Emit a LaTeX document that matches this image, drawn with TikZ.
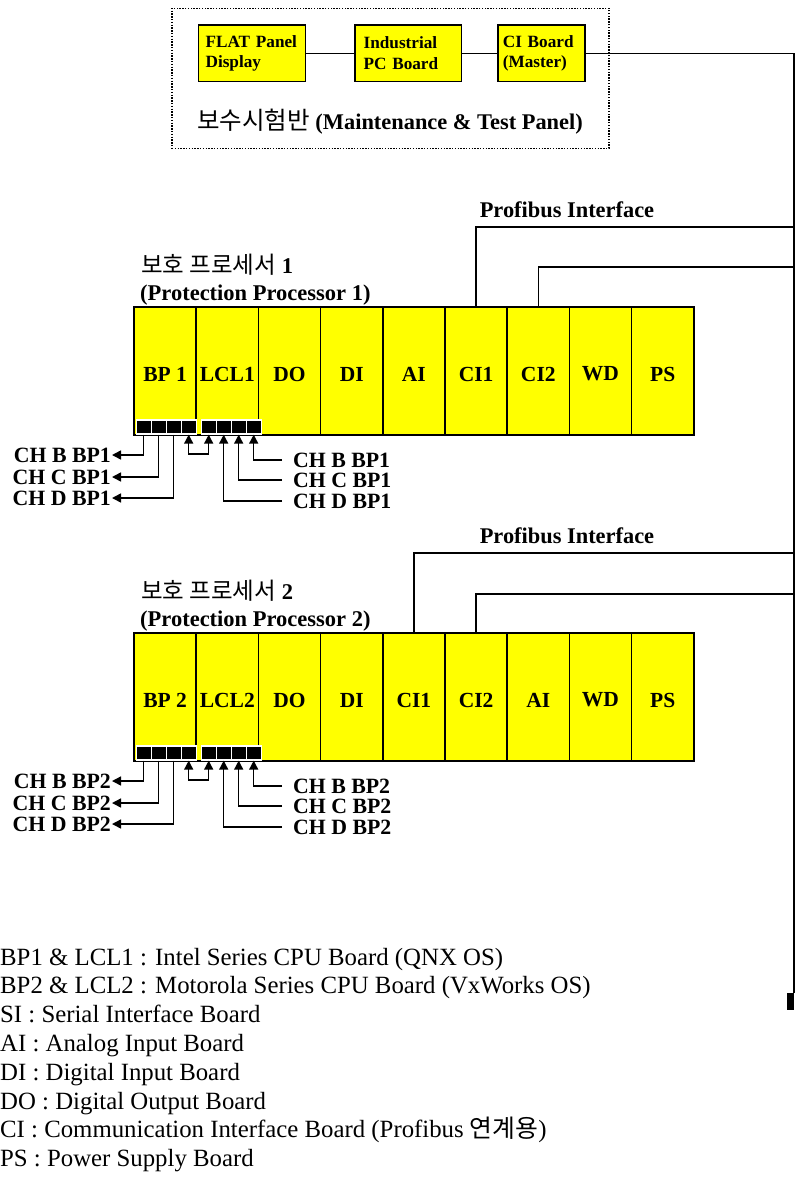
\documentclass[tikz,border=0pt]{standalone}
\usepackage{fontspec}
\setmainfont{Liberation Serif}
\newfontfamily\korfont{Noto Sans CJK KR}
\usepackage{tikz}
\usetikzlibrary{positioning,arrows.meta}
\definecolor{rackYellow}{HTML}{FFFF00}
\definecolor{rackInk}{HTML}{000000}
\tikzset{
  board/.style   = {draw=rackInk, line width=1.5pt, fill=rackYellow, inner sep=0pt,
                    minimum width=62.2pt, minimum height=128pt},
  brdlbl/.style  = {font=\bfseries\fontsize{21.5}{24}\selectfont, inner sep=0pt},
  pcbox/.style   = {draw=rackInk, line width=1.5pt, fill=rackYellow, align=left,
                    minimum height=56.7pt, inner ysep=0pt,
                    font=\bfseries\fontsize{17.2}{20.6}\selectfont},
  mtpanel/.style = {draw=rackInk, line width=1.4pt, dash pattern=on 1.4pt off 1.4pt,
                    minimum width=437pt, minimum height=140pt, inner sep=0pt},
  port/.style    = {fill=rackInk, draw=white, line width=1.3pt, inner sep=0pt,
                    minimum width=15pt, minimum height=14pt},
  busend/.style  = {fill=rackInk, inner sep=0pt, minimum width=7pt, minimum height=17pt},
  chlbl/.style   = {font=\bfseries\fontsize{21.8}{24}\selectfont, inner sep=1pt},
  prlbl/.style   = {font=\bfseries\fontsize{22.5}{26}\selectfont, inner sep=0pt,
                    anchor=base west},
  pblbl/.style   = {font=\bfseries\fontsize{22.4}{26}\selectfont, inner sep=0pt,
                    anchor=base},
  legend/.style  = {font=\fontsize{24.8}{28.8}\selectfont, inner sep=0pt,
                    anchor=base west},
  bus/.style     = {line width=1.5pt, color=rackInk},
  chout/.style   = {line width=1.5pt, -{Triangle[length=9pt,width=9pt]}},
  chlink/.style  = {line width=1.5pt,
                    {Triangle[length=9pt,width=9pt]}-{Triangle[length=9pt,width=9pt]}},
}

\begin{document}
\begin{tikzpicture}[x=1pt, y=-1pt, line cap=butt]
\useasboundingbox (0,0) rectangle (795,1178);

% one protection processor rack. #1 name prefix, #2 shift down, #3 number,
% #4 the nine boards from left to right
\newcommand{\protrack}[4]{%
  \begin{scope}[shift={(0,#2)}]
  \foreach \lbl [count=\i] in {#4}{
    \node[board] (#1\i) at ({134+62.2*(\i-0.5)},371) {};
    \node[brdlbl] (#1\i t) at ([yshift=-3pt]#1\i.center) {\lbl};
  }
  \foreach \k in {1,...,4}
    {\node[port] (#1P\k) at ({143.7+15*(\k-1)},427) {};}
  \foreach \k in {5,...,8}
    {\node[port] (#1P\k) at ({208.7+15*(\k-5)},427) {};}
  \node[prlbl] (#1Ko) at (141,273) {{\korfont\mdseries\fontsize{23.5}{26}\selectfont 보호 프로세서} #3};
  \node[prlbl] (#1En) at (140,300) {(Protection Processor #3)};
  \node[pblbl] (#1Pb) at (567,217) {Profibus Interface};
  % channels out to the left
  \node[chlbl, anchor=east] (#1L1) at (112,455) {CH B BP#3};
  \node[chlbl, anchor=east] (#1L2) at (112,477) {CH C BP#3};
  \node[chlbl, anchor=east] (#1L3) at (112,498) {CH D BP#3};
  \draw[chout] (#1P1.south) |- (#1L1.east);
  \draw[chout] (#1P2.south) |- (#1L2.east);
  \draw[chout] (#1P3.south) |- (#1L3.east);
  % BP <-> LCL
  \coordinate (#1Lk) at (198.7,454);
  \draw[chlink] (#1P4.south) |- (#1Lk) -| (#1P5.south);
  % channels in from the right
  \node[chlbl, anchor=west] (#1R1) at (292,460) {CH B BP#3};
  \node[chlbl, anchor=west] (#1R2) at (292,480) {CH C BP#3};
  \node[chlbl, anchor=west] (#1R3) at (292,501) {CH D BP#3};
  \draw[chout, shorten <=10pt] (#1R1.west) -| (#1P8.south);
  \draw[chout, shorten <=10pt] (#1R2.west) -| (#1P7.south);
  \draw[chout, shorten <=10pt] (#1R3.west) -| (#1P6.south);
  \end{scope}}

% ============== maintenance & test panel ==================
\node[mtpanel] (mtp) at (390.5,78.3) {};
\node[pcbox, text width=93pt, inner xsep=7pt] (fpd) at (252.1,53.3) {FLAT Panel\\Display};
\node[pcbox, text width=89pt, inner xsep=8.75pt, right=47.8pt of fpd] (ipc) {Industrial\\PC Board};
\node[pcbox, text width=77pt, inner xsep=5pt, right=35pt of ipc] (cim) {CI Board\\(Master)};
\draw[bus] (fpd) -- (ipc);
\draw[bus] (ipc) -- (cim);
\node[font=\bfseries\fontsize{22.4}{26}\selectfont, inner sep=0pt] (mtlbl) at (390,122)
  {{\korfont\mdseries\fontsize{24.5}{26}\selectfont 보수시험반} (Maintenance \& Test Panel)};

% ===================== the two racks ==========================
\protrack{pa}{0}{1}{BP 1,LCL1,DO,DI,AI,CI1,CI2,WD,PS}
\protrack{pb}{326}{2}{BP 2,LCL2,DO,DI,CI1,CI2,AI,WD,PS}

% ===================== profibus ==========================
\node[busend] (busEnd) at (790.5,1001.5) {};
\draw[bus] (cim.east) -| (busEnd.north east);
\coordinate (tapA1) at (794,227);
\coordinate (tapA2) at (794,267);
\coordinate (tapB1) at (794,553);
\coordinate (tapB2) at (794,594);
\draw[bus] (pa6.north) |- (tapA1);
\draw[bus] (pa7.north) |- (tapA2);
\draw[bus] (pb5.north) |- (tapB1);
\draw[bus] (pb6.north) |- (tapB2);

% ===================== legend ==========================
\foreach \txt [count=\i] in {BP1 \& LCL1 : Intel Series CPU Board (QNX OS),
    BP2 \& LCL2 : Motorola Series CPU Board (VxWorks OS),
    SI : Serial Interface Board,
    AI : Analog Input Board,
    DI : Digital Input Board,
    DO : Digital Output Board,
    CI : Communication Interface Board (Profibus {\korfont 연계용}),
    PS : Power Supply Board}
  {\node[legend] (leg\i) at (0,{965+28.8*(\i-1)}) {\txt};}

\end{tikzpicture}
\end{document}
